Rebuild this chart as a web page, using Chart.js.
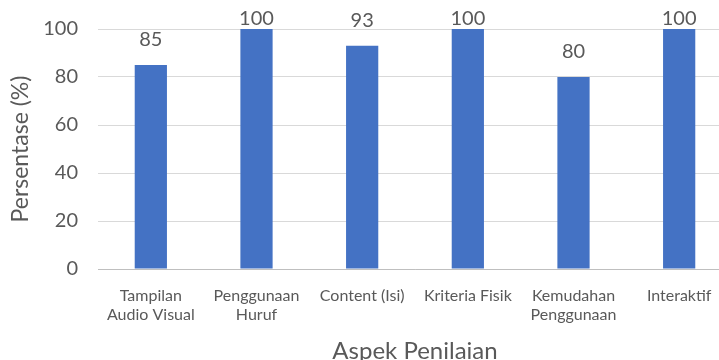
<!DOCTYPE html>
<html>
<head>
<meta charset="utf-8">
<script src="https://cdn.jsdelivr.net/npm/chart.js@4.4.0/dist/chart.umd.min.js"></script>
<style>
    html, body { margin: 0; padding: 0; background: #ffffff; overflow: hidden; }
    #chartWrap { width: 719px; height: 360px; overflow: hidden; }
</style>
</head>
<body>
<div id="chartWrap">
    <canvas id="aspekChart" width="732" height="360"></canvas>
</div>
<script>
// Kategori aspek penilaian (label sumbu X, dua baris)
const aspekLabels = [
    ['Tampilan', 'Audio Visual'],
    ['Penggunaan', 'Huruf'],
    'Content (Isi)',
    'Kriteria Fisik',
    ['Kemudahan', 'Penggunaan'],
    'Interaktif'
];

// Persentase per aspek
const persentase = [85, 100, 93, 100, 80, 100];

// Tick sumbu Y
const yTicks = [0, 20, 40, 60, 80, 100];

const fontFamily = 'Lato, "Open Sans", sans-serif';
const textColor = '#595959';

// Label nilai di atas batang
const barValueLabels = {
    id: 'barValueLabels',
    afterDatasetsDraw(chart) {
        const ctx = chart.ctx;
        const meta = chart.getDatasetMeta(0);
        ctx.save();
        ctx.font = '20px ' + fontFamily;
        ctx.fillStyle = textColor;
        ctx.textAlign = 'center';
        ctx.textBaseline = 'middle';
        meta.data.forEach((bar, i) => {
            const y = Math.max(bar.y - 25, 19);
            ctx.fillText(String(persentase[i]), bar.x, y);
        });
        ctx.restore();
    }
};

// Judul sumbu X di bawah label kategori, tengah area plot
const xAxisTitle = {
    id: 'xAxisTitle',
    afterDraw(chart) {
        const ctx = chart.ctx;
        const area = chart.chartArea;
        ctx.save();
        ctx.font = '24px ' + fontFamily;
        ctx.fillStyle = textColor;
        ctx.textAlign = 'center';
        ctx.textBaseline = 'alphabetic';
        ctx.fillText('Aspek Penilaian', (area.left + area.right) / 2, 359);
        ctx.restore();
    }
};

const chartCtx = document.getElementById('aspekChart');
new Chart(chartCtx, {
    type: 'bar',
    data: {
        labels: aspekLabels,
        datasets: [{
            label: 'Persentase',
            data: persentase,
            backgroundColor: '#4472C4',
            borderWidth: 0,
            categoryPercentage: 0.305,
            barPercentage: 1
        }]
    },
    options: {
        responsive: false,
        animation: false,
        layout: { padding: { top: 29, right: 0, bottom: 0, left: 0 } },
        plugins: {
            legend: { display: false },
            tooltip: { enabled: false }
        },
        scales: {
            x: {
                grid: { display: false },
                border: { display: true, color: '#bfbfbf', width: 1 },
                ticks: {
                    color: textColor,
                    font: { family: fontFamily, size: 16, lineHeight: 1.15 },
                    padding: 10,
                    maxRotation: 0,
                    autoSkip: false
                },
                afterFit(scale) {
                    scale.height = 91;
                    scale.paddingLeft = 0;
                    scale.paddingRight = 0;
                }
            },
            y: {
                min: 0,
                max: 100,
                afterBuildTicks(scale) { scale.ticks = yTicks.map(v => ({ value: v })); },
                grid: { color: '#d9d9d9', lineWidth: 1, drawTicks: false },
                border: { display: false },
                ticks: {
                    color: textColor,
                    font: { family: fontFamily, size: 20 },
                    padding: 20
                },
                title: {
                    display: true,
                    text: 'Persentase (%)',
                    color: textColor,
                    font: { family: fontFamily, size: 23 },
                    padding: { top: 7, bottom: 0 }
                },
                afterFit(scale) {
                    scale.width = 98;
                    scale.paddingTop = 0;
                    scale.paddingBottom = 0;
                }
            }
        }
    },
    plugins: [barValueLabels, xAxisTitle]
});
</script>
</body>
</html>
